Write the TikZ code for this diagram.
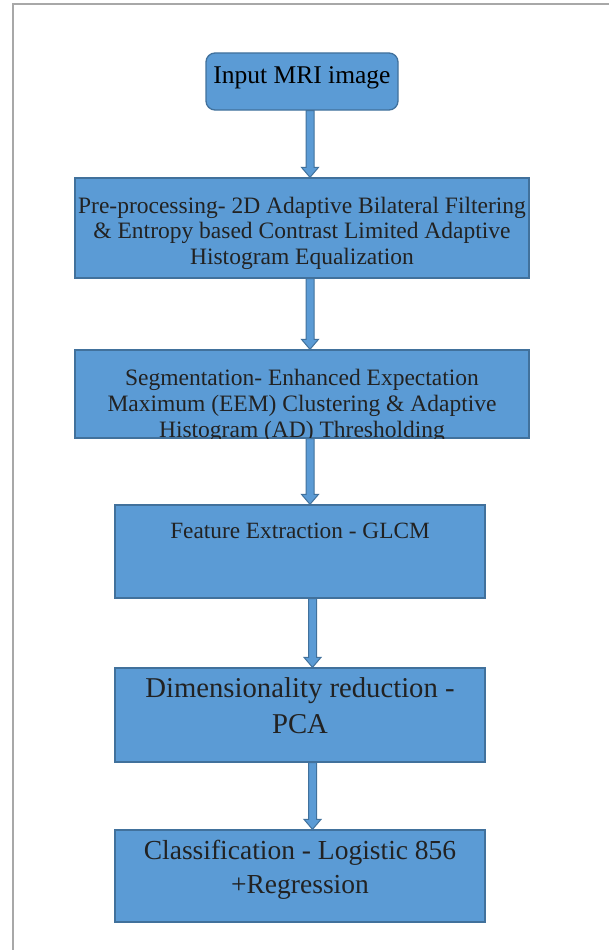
\documentclass[tikz,border=0pt]{standalone}
\usepackage{fontspec}
\setmainfont{Liberation Serif}
\usepackage{tikz}
\usetikzlibrary{calc}

\definecolor{boxfill}{HTML}{5B9BD5}
\definecolor{boxedge}{HTML}{41719C}
\definecolor{ink}{HTML}{222222}
\definecolor{frame}{HTML}{A8A8A8}

\tikzset{
  stepbox/.style={draw=boxedge, fill=boxfill, line width=1.3pt, inner sep=0pt, align=center, text=ink},
  blockarrow/.style={draw=boxedge, fill=boxfill, line width=1pt, line join=miter}
}

\begin{document}
\begin{tikzpicture}[x=1pt,y=-1pt]
\useasboundingbox (0,0) rectangle (609,950);

\coordinate (c1) at (302,81.5);
\coordinate (c2) at (302,228);
\coordinate (c3) at (302,394);
\coordinate (c4) at (300,551.5);
\coordinate (c5) at (300,715);
\coordinate (c6) at (300,876);

\draw[frame, line width=1.5pt] (13,950) -- (13,4) -- (609,4);

\node[stepbox, rounded corners=9pt, minimum width=192pt, minimum height=57pt, text=black,
  font=\fontsize{25.5}{28}\selectfont, text height=30pt, text depth=27pt] (inp) at (c1) {Input MRI image};
\node[stepbox, minimum width=454pt, minimum height=100pt,
  font=\fontsize{23.5}{25.5}\selectfont, text height=86pt, text depth=14pt] (pre) at (c2)
  {Pre-processing- 2D Adaptive Bilateral Filtering\\ \& Entropy based Contrast Limited Adaptive\\ Histogram Equalization};
% last line runs into the lower edge
\begin{scope}
\clip (73,348) rectangle (531,438.65);
\node[stepbox, minimum width=454pt, minimum height=88pt,
  font=\fontsize{23.5}{26}\selectfont, text height=87pt, text depth=1pt] (seg) at (c3)
  {Segmentation- Enhanced Expectation\\ Maximum (EEM) Clustering \& Adaptive\\ Histogram (AD) Thresholding};
\end{scope}
\node[stepbox, minimum width=370pt, minimum height=93pt,
  font=\fontsize{23.3}{26}\selectfont, text height=33pt, text depth=60pt] (feat) at (c4) {Feature Extraction - GLCM};
\node[stepbox, minimum width=370pt, minimum height=94pt,
  font=\fontsize{28.7}{36}\selectfont, text height=65pt, text depth=29pt] (dim) at (c5) {Dimensionality reduction -\\ PCA};
\node[stepbox, minimum width=370pt, minimum height=92pt,
  font=\fontsize{27.5}{34}\selectfont, text height=63pt, text depth=29pt] (cls) at (c6) {Classification - Logistic 856\\ +Regression};

\foreach \a/\b/\dx in {inp/pre/8, pre/seg/8, seg/feat/8, feat/dim/12.5, dim/cls/12.5}{
  \coordinate (top) at ([xshift=\dx pt]\a.south);
  \coordinate (tip) at (top |- \b.north);
  \draw[blockarrow] ([xshift=-4pt]top) -- ([shift={(-4pt,10pt)}]tip) -- ([shift={(-8.5pt,10pt)}]tip) -- (tip)
    -- ([shift={(8.5pt,10pt)}]tip) -- ([shift={(4pt,10pt)}]tip) -- ([xshift=4pt]top) -- cycle;
}

\end{tikzpicture}
\end{document}
